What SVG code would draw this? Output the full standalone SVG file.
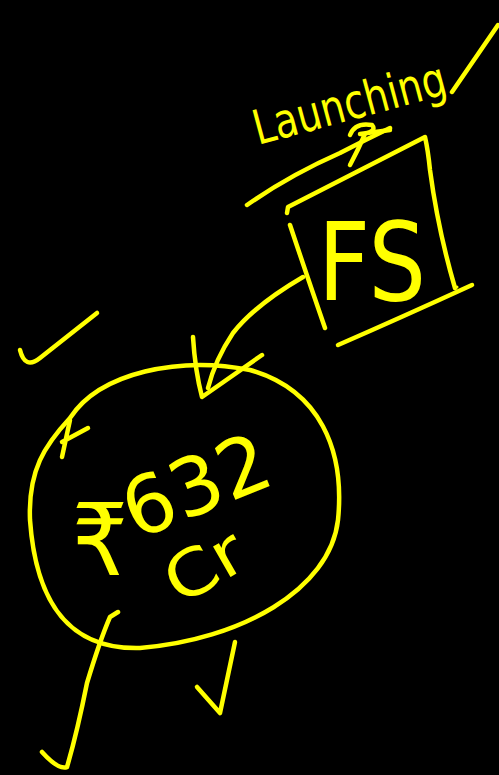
<svg xmlns="http://www.w3.org/2000/svg" width="499" height="775" viewBox="0 0 499 775">
<style>
.s{fill:none;stroke:#ffff00;stroke-width:4.5;stroke-linecap:round;stroke-linejoin:round}
.t{fill:#ffff00;font-family:"DejaVu Sans","Liberation Sans",sans-serif}
</style>
<rect width="499" height="775" fill="#000"/>
<g id="label-launching">
<text class="t" x="258" y="145" font-size="48" transform="rotate(-15 258 145)" textLength="198" lengthAdjust="spacingAndGlyphs">Launching</text>
<path class="s" d="M452 92 L498 25"/>
<path class="s" d="M350 135 Q355 122 372 125 Q378 132 360 134 L390 130 M365 134 Q358 150 350 165"/>
</g>
<g id="node-fs">
<path class="s" d="M247 205 Q290 175 340 153 Q365 140 390 128"/>
<path class="s" d="M287 213 L288 207 Q350 175 425 137 Q428 150 430 170 Q438 230 455 288"/>
<path class="s" d="M290 225 Q305 270 325 328"/>
<path class="s" d="M338 345 Q400 318 472 285"/>
<circle cx="457" cy="287" r="1.5" fill="#ffff00"/>
<text class="t" x="318" y="300" font-size="108" textLength="108" lengthAdjust="spacingAndGlyphs">FS</text>
</g>
<g id="node-amount">
<path class="s" d="M70 418 C100 372 180 356 250 370 C320 390 345 450 338 520 C330 590 240 640 140 648 C60 650 35 590 30 520 C28 470 45 445 70 418"/>
<path class="s" d="M88 428 L62 442 M70 420 L62 457"/>
<text class="t" x="72" y="575" font-size="100" textLength="56" lengthAdjust="spacingAndGlyphs">₹</text>
<text class="t" x="136" y="540" font-size="80" transform="rotate(-22 136 540)" textLength="152" lengthAdjust="spacingAndGlyphs">632</text>
<text class="t" x="180" y="606" font-size="64" transform="rotate(-30 180 606)" textLength="82" lengthAdjust="spacingAndGlyphs">Cr</text>
</g>
<g id="connectors">
<path class="s" d="M303 277 Q255 305 233 333 Q215 360 208 388"/>
<path class="s" d="M193 337 Q195 370 202 397 L262 355"/>
</g>
<g id="checks">
<path class="s" d="M20 350 Q25 370 40 358 L97 313"/>
<path class="s" d="M197 687 L220 713 L235 642"/>
<path class="s" d="M118 612 L110 617 Q100 640 87 683 Q77 733 67 767 Q58 770 42 752"/>
</g>
</svg>
